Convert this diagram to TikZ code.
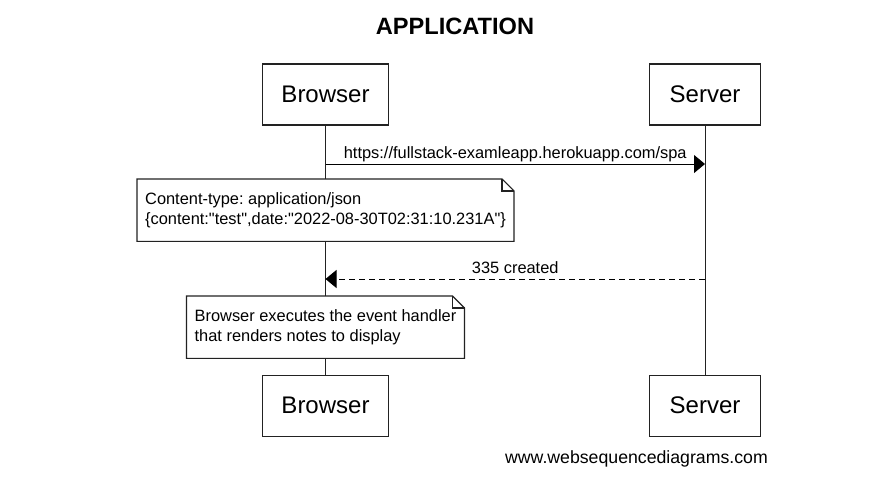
\documentclass[tikz,border=0pt]{standalone}
\usepackage{fontspec}
\setmainfont{Liberation Sans}
\usetikzlibrary{positioning}
\usetikzlibrary{arrows.meta}
\definecolor{lineGray}{HTML}{222222}
\frenchspacing
\newcommand{\sdnote}[3]{
    \begin{scope}
        \node (#1) [draw=none, fill=white, align=left, inner xsep=8pt, inner ysep=0pt, minimum height=\noteHeight, font=\msgFont, #2] {#3};
        \draw [lineGray, line width=1.1pt] (#1.north west) -- ([xshift=-\foldSize pt]#1.north east) -- ([yshift=-\foldSize pt]#1.north east) -- (#1.south east) -- (#1.south west) -- cycle;
        \draw [lineGray, line width=1.1pt] ([xshift=-\foldSize pt]#1.north east) |- ([yshift=-\foldSize pt]#1.north east);
    \end{scope}
}
\newcommand{\msgFont}{\fontsize{16.4}{20}\selectfont}
\newcommand{\q}{\textquotedbl}

\begin{document}
\begin{tikzpicture}[x=1pt, y=-1pt, inner sep=0.0 pt]
    \pgfmathsetmacro{\foldSize}{12}
    \pgfmathsetmacro{\noteHeight}{62}
    \pgfmathsetmacro{\actorHeight}{61}
    \useasboundingbox (0,0) rectangle (877,491);

    \node (title) [font=\fontsize{23.6}{28}\selectfont\bfseries] at (455,26) {APPLICATION};

    \node (browserTop) [draw=lineGray, line width=1.2pt, inner xsep=19pt, minimum height=\actorHeight, font=\fontsize{24}{28}\selectfont] at (325.5,94.5) {Browser};
    \node (serverTop) [draw=lineGray, line width=1.2pt, inner xsep=20pt, minimum height=\actorHeight, font=\fontsize{24}{28}\selectfont] at (705,94.5) {Server};
    \node (browserBot) [draw=lineGray, line width=1.2pt, inner xsep=19pt, minimum height=\actorHeight, font=\fontsize{24}{28}\selectfont, below=249pt of browserTop] {Browser};
    \node (serverBot) [draw=lineGray, line width=1.2pt, inner xsep=20pt, minimum height=\actorHeight, font=\fontsize{24}{28}\selectfont, below=249pt of serverTop] {Server};

    \draw [lineGray, line width=1pt] (browserTop) -- (browserBot);
    \draw [lineGray, line width=1pt] (serverTop) -- (serverBot);

    \coordinate (reqFrom) at (browserTop.south |- 0,164);
    \coordinate (reqTo) at (serverTop.south |- 0,164);
    \coordinate (resFrom) at (serverTop.south |- 0,279);
    \coordinate (resTo) at (browserTop.south |- 0,279);

    \draw [-{Triangle[length=11pt, width=18pt]}, line width=1pt] (reqFrom) -- (reqTo) node[midway, anchor=base, yshift=6pt, font=\msgFont] {https://fullstack-examleapp.herokuapp.com/spa};
    \draw [-{Triangle[length=11pt, width=18pt]}, line width=1pt, dash pattern=on 6pt off 4pt] (resFrom) -- (resTo) node[midway, anchor=base, yshift=6pt, font=\msgFont] {335 created};

    \sdnote{jsonNote}{anchor=north, at={(browserTop.south |- 0,179)}}{Content-type: application/json\\\{content:\q test\q,date:\q 2022-08-30T02:31:10.231A\q\}}
    \sdnote{renderNote}{anchor=north, at={(browserTop.south |- 0,296)}}{Browser executes the event handler\\that renders notes to display}

    \node (credit) [anchor=east, font=\fontsize{17.7}{20}\selectfont] at (768,459) {www.websequencediagrams.com};

\end{tikzpicture}
\end{document}
